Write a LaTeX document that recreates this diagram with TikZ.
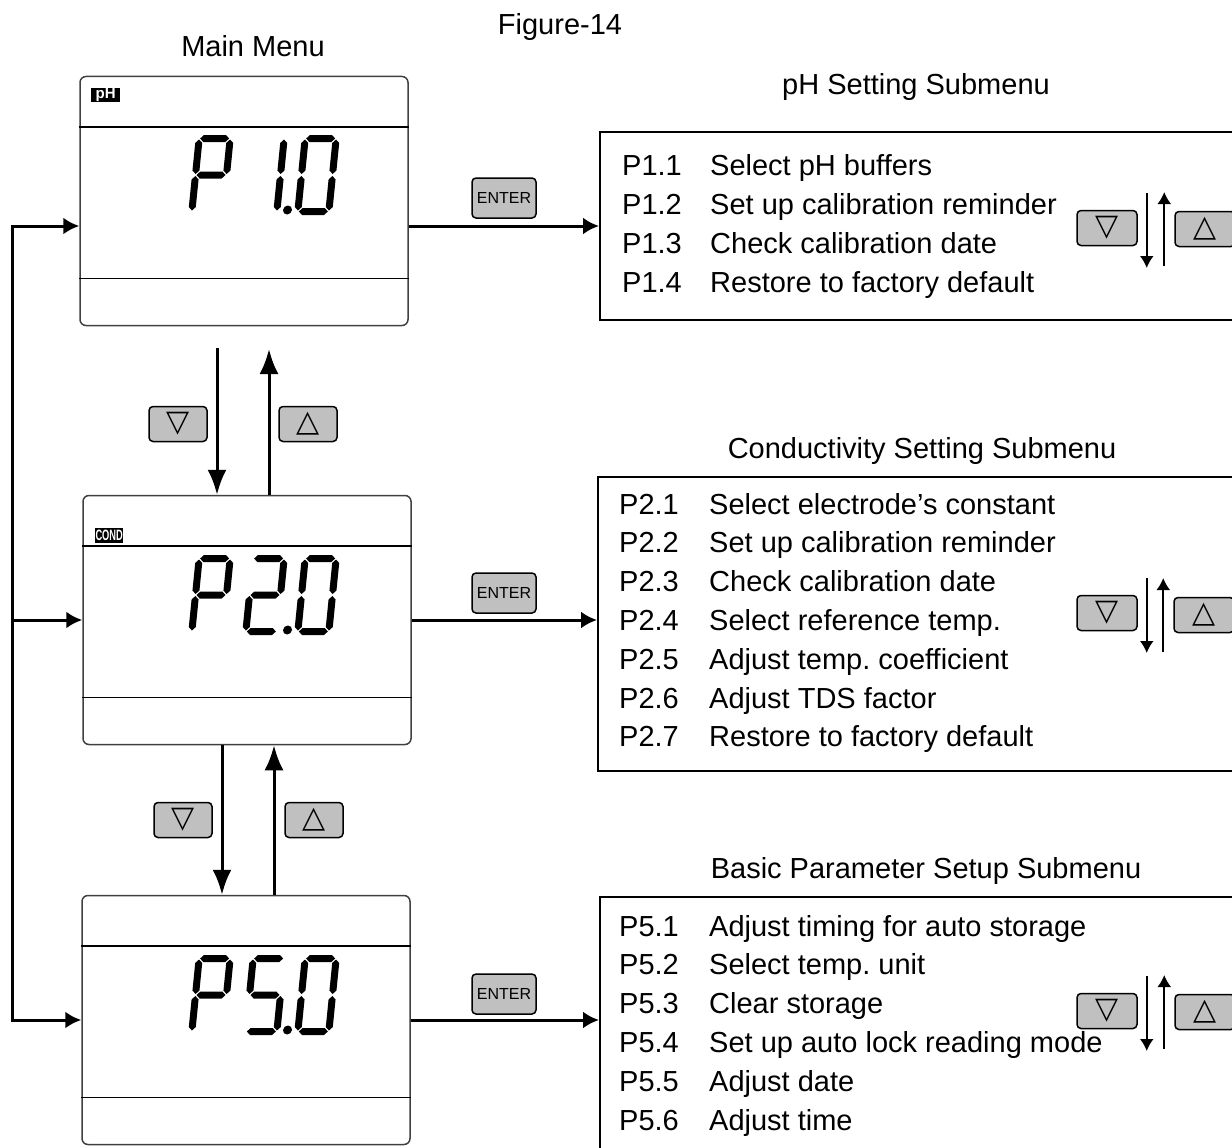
\documentclass[tikz,border=0pt]{standalone}
\usepackage{fontspec}
\setmainfont{Liberation Sans}
\newfontfamily\symfont{DejaVu Sans}
\usepackage{xcolor}
\usepackage{tikz}
\usetikzlibrary{arrows.meta,positioning}
\frenchspacing
\definecolor{keygray}{RGB}{192,192,192}
\tikzset{
    lcd/.style={rectangle, draw=black!75, line width=1.5pt, rounded corners=6pt, minimum width=328pt, minimum height=249pt, inner sep=0pt},
    divider/.style={draw, line width=1.5pt},
    menu/.style={rectangle, draw, line width=2pt, inner sep=0pt},
    key/.style={rectangle, draw, line width=1.5pt, fill=keygray, rounded corners=4pt, minimum width=58pt, minimum height=35pt, inner sep=0pt, font=\fontsize{30}{30}\selectfont},
    enter/.style={key, minimum width=64pt, minimum height=40pt, font=\fontsize{16}{16}\selectfont},
    badge/.style={fill=black, text=white, inner sep=0pt, anchor=north west},
    line/.style={draw, line width=3pt, ->},
    vline/.style={draw, line width=3pt, -{Latex[length=25pt,width=19pt]}},
    sline/.style={draw, line width=2pt, -{Latex[length=12pt,width=14pt]}},
    title/.style={font=\fontsize{29}{29}\selectfont, inner sep=0pt, anchor=base},
    item/.style={font=\fontsize{29}{29}\selectfont, inner sep=0pt, anchor=base west}
}
% seven segment pieces, digit is 38 x 80
\newcommand{\lcdh}[3]{\fill (#1+1,#3) -- (#1+4.5,#3-3.5) -- (#2-4.5,#3-3.5) -- (#2-1,#3) -- (#2-4.5,#3+3.5) -- (#1+4.5,#3+3.5) -- cycle;}
\newcommand{\lcdv}[3]{\fill (#1,#2+1) -- (#1+3.5,#2+4.5) -- (#1+3.5,#3-4.5) -- (#1,#3-1) -- (#1-3.5,#3-4.5) -- (#1-3.5,#2+4.5) -- cycle;}
\newcommand{\lcdsega}{\lcdh{3.5}{34.5}{3.5}}
\newcommand{\lcdsegb}{\lcdv{34.5}{3.5}{40}}
\newcommand{\lcdsegc}{\lcdv{34.5}{40}{76.5}}
\newcommand{\lcdsegd}{\lcdh{3.5}{34.5}{76.5}}
\newcommand{\lcdsege}{\lcdv{3.5}{40}{76.5}}
\newcommand{\lcdsegf}{\lcdv{3.5}{3.5}{40}}
\newcommand{\lcdsegg}{\lcdh{3.5}{34.5}{40}}
\newcommand{\lcdsegp}{\fill (45,75) circle (4.5pt);}
\newcommand{\lcddigit}[2]{\begin{scope}[shift={#1}, xslant=0.1]
    \foreach \s in {#2} {\csname lcdseg\s\endcsname}
\end{scope}}
\newcommand{\tridown}{{\symfont ▽}}
\newcommand{\triup}{{\symfont △}}

\begin{document}
\begin{tikzpicture}[x=1pt, y=-1pt, >={Latex[length=16pt,width=17pt]}]
    \clip (0,0) rectangle (1232,1148);
    \node[title] (caption) at (560,35) {Figure-14};

    % Main menu displays
    \node[lcd] (main1) at (244,201) {};
    \node[lcd] (main2) at (247,620) {};
    \node[lcd] (main3) at (246,1020) {};
    \node[title, anchor=south, above=19pt of main1, xshift=9pt] (mainmenu) {Main Menu};
    \foreach \m in {main1,main2,main3} {
        \draw[divider] ([yshift=-51pt]\m.north west) -- ([yshift=-51pt]\m.north east);
        \draw[divider] ([yshift=48pt]\m.south west) -- ([yshift=48pt]\m.south east);
    }
    \node[badge, minimum width=29pt, minimum height=14pt, font=\fontsize{15}{15}\selectfont\bfseries] (phtag) at (91,88) {pH};
    \node[badge, minimum width=28pt, minimum height=15pt, font=\fontsize{15}{15}\selectfont\bfseries] (condtag) at (95,528) {\scalebox{0.62}[1]{COND}};

    % P1.0
    \lcddigit{(196,135)}{a,b,f,g,e}
    \lcddigit{(250,135)}{b,c,p}
    \lcddigit{(302,135)}{a,b,c,d,e,f}
    % P2.0
    \lcddigit{(196,555)}{a,b,f,g,e}
    \lcddigit{(250,555)}{a,b,g,e,d,p}
    \lcddigit{(302,555)}{a,b,c,d,e,f}
    % P5.0
    \lcddigit{(196,955)}{a,b,f,g,e}
    \lcddigit{(250,955)}{a,f,g,c,d,p}
    \lcddigit{(302,955)}{a,b,c,d,e,f}

    % scrolling between the main menu items
    \node[key] (dn1key) at (178,424) {\tridown};
    \node[key] (up1key) at (308,424) {\triup};
    \node[key] (dn2key) at (183,820) {\tridown};
    \node[key] (up2key) at (314,820) {\triup};
    \coordinate (dn1) at (217,348);
    \coordinate (up1) at (269,349);
    \coordinate (dn2) at (222,0);
    \coordinate (up2) at (274,0);
    \draw[vline] (dn1) -- (dn1 |- main2.north);
    \draw[vline] (up1 |- main2.north) -- (up1);
    \draw[vline] (dn2 |- main2.south) -- (dn2 |- main3.north);
    \draw[vline] (up2 |- main3.north) -- (up2 |- main2.south);

    % return path on the left
    \coordinate (back) at (12,0);
    \coordinate (in1) at ([yshift=-25pt]main1.west);
    \draw[line, <->] (in1) -- (in1 -| back) -- (main3.west -| back) -- (main3.west);
    \draw[line] (main2.west -| back) -- (main2.west);

    % Submenus
    \node[menu, minimum width=640pt, minimum height=188pt] (sub1) at (920,226) {};
    \node[menu, minimum width=642pt, minimum height=294pt] (sub2) at (919,624) {};
    \node[menu, minimum width=640pt, minimum height=264pt] (sub3) at (920,1029) {};
    \node[title] (phtitle) at (916,95) {pH Setting Submenu};
    \node[title] (condtitle) at (922,458) {Conductivity Setting Submenu};
    \node[title] (basictitle) at (926,878) {Basic Parameter Setup Submenu};

    % ENTER connections
    \node[enter] (ent1) at (504,198) {ENTER};
    \node[enter] (ent2) at (504,593) {ENTER};
    \node[enter] (ent3) at (504,994) {ENTER};
    \coordinate (out1) at ([yshift=-25pt]main1.east);
    \draw[line] (out1) -- (out1 -| sub1.west);
    \draw[line] (main2.east) -- (main2.east -| sub2.west);
    \draw[line] (main3.east) -- (main3.east -| sub3.west);

    % pH items
    \foreach \code/\txt [count=\i] in {P1.1/Select pH buffers, P1.2/Set up calibration reminder, P1.3/Check calibration date, P1.4/Restore to factory default} {
        \node[item] (phc\i) at (622,136+39*\i) {\code};
        \node[item] (phd\i) at (710,136+39*\i) {\txt};
    }
    % Conductivity items
    \foreach \code/\txt [count=\i] in {P2.1/Select electrode’s constant, P2.2/Set up calibration reminder, P2.3/Check calibration date, P2.4/Select reference temp., P2.5/Adjust temp. coefficient, P2.6/Adjust TDS factor, P2.7/Restore to factory default} {
        \node[item] (condc\i) at (619,475.2+38.8*\i) {\code};
        \node[item] (condd\i) at (709,475.2+38.8*\i) {\txt};
    }
    % Basic parameter items
    \foreach \code/\txt [count=\i] in {P5.1/Adjust timing for auto storage, P5.2/Select temp. unit, P5.3/Clear storage, P5.4/Set up auto lock reading mode, P5.5/Adjust date, P5.6/Adjust time} {
        \node[item] (basicc\i) at (619,897.2+38.8*\i) {\code};
        \node[item] (basicd\i) at (709,897.2+38.8*\i) {\txt};
    }

    % scrolling inside the submenus
    \node[key, minimum width=60pt] (phdn) at (1107,228) {\tridown};
    \node[key, minimum width=60pt] (phup) at (1205,229) {\triup};
    \node[key, minimum width=60pt] (conddn) at (1107,613) {\tridown};
    \node[key, minimum width=60pt] (condup) at (1204,615) {\triup};
    \node[key, minimum width=60pt] (basicdn) at (1107,1011) {\tridown};
    \node[key, minimum width=60pt] (basicup) at (1205,1012) {\triup};
    \foreach \s in {ph,cond,basic} {
        \draw[sline] ([xshift=9pt,yshift=35pt]\s dn.east) -- ([xshift=9pt,yshift=-40pt]\s dn.east);
        \draw[sline] ([xshift=-10pt,yshift=-37pt]\s up.west) -- ([xshift=-10pt,yshift=37pt]\s up.west);
    }
\end{tikzpicture}
\end{document}
